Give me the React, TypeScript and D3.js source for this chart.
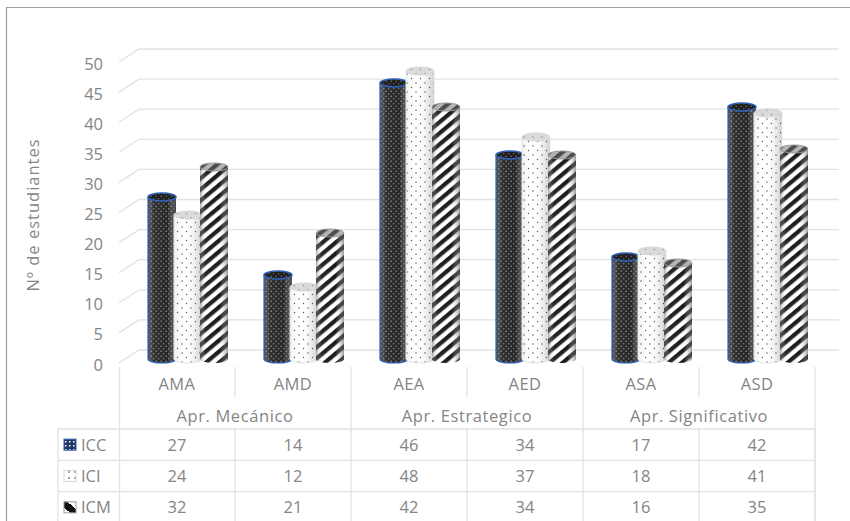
import React from "react";
import * as d3 from "d3";

const categories = ["AMA", "AMD", "AEA", "AED", "ASA", "ASD"];
const groups = ["Apr. Mecánico", "Apr. Estrategico", "Apr. Significativo"];
const seriesNames = ["ICC", "ICI", "ICM"];
const icc = [27, 14, 46, 34, 17, 42];
const ici = [24, 12, 48, 37, 18, 41];
const icm = [32, 21, 42, 34, 16, 35];
const yTicks = d3.range(0, 51, 5);

const W = 850;
const H = 521;
const font = "'Open Sans', 'Noto Sans', sans-serif";
const textColor = "#858585";
const gridColor = "#e2e2e2";
const labelSize = 16.5;

const tableX = 119;
const tableRight = 815;
const depthX = 20;
const depthY = 13;

const x = d3.scaleBand<string>().domain(categories).range([tableX, tableRight]);
const axisY = d3.scaleLinear().domain([0, 50]).range([363, 62]);
const barY = d3.scaleLinear().domain([0, 50]).range([359, 59]);
const seriesX = d3.scaleBand<string>().domain(seriesNames).range([29, 107]);
const seriesValues = [icc, ici, icm];
const rowY = d3.scaleBand<string>().domain(seriesNames).range([429, 523]);

const fills = ["url(#pat-icc)", "url(#pat-ici)", "url(#pat-icm)"];
const keyFills = ["url(#key-icc)", "url(#key-ici)", "url(#key-icm)"];

function Cylinder({ cx, top, bottom, rx, series }: { cx: number; top: number; bottom: number; rx: number; series: number }) {
  const ry = 4;
  const body = `M${cx - rx},${top}L${cx - rx},${bottom}A${rx},${ry} 0 0 0 ${cx + rx},${bottom}L${cx + rx},${top}Z`;
  const capTint = series === 0 ? "#000" : series === 1 ? "#bbb" : "#777";
  const capOpacity = series === 0 ? 0.2 : 0.55;
  return (
    <g>
      <path d={body} fill={fills[series]} />
      <path d={body} fill={series === 1 ? "url(#shade-light)" : "url(#shade)"} />
      {series === 0 && <path d={`M${cx - rx},${top}L${cx - rx},${bottom}A${rx},${ry} 0 0 0 ${cx + rx},${bottom}`} fill="none" stroke="#2f62b5" strokeWidth={1.2} />}
      {series === 1 && <path d={body} fill="none" stroke="#e3e6ea" strokeWidth={1} />}
      <ellipse cx={cx} cy={top} rx={rx} ry={ry} fill={fills[series]} />
      <ellipse cx={cx} cy={top} rx={rx} ry={ry} fill={capTint} fillOpacity={capOpacity} stroke={series === 0 ? "#2f62b5" : series === 1 ? "#d8d8d8" : "#9a9a9a"} strokeWidth={series === 0 ? 1.6 : 1} />
    </g>
  );
}

export default function App() {
  return (
    <svg width={W} height={H} style={{ position: "fixed", left: 0, top: 0, background: "#fff" }} fontFamily={font}>
      <defs>
        <pattern id="pat-icc" width="5" height="5" patternUnits="userSpaceOnUse">
          <rect width="5" height="5" fill="#262626" />
          <circle cx="1.2" cy="1.2" r="0.8" fill="#8f8f8f" />
          <circle cx="3.7" cy="3.7" r="0.8" fill="#808080" />
        </pattern>
        <pattern id="pat-ici" width="9" height="9" patternUnits="userSpaceOnUse">
          <rect width="9" height="9" fill="#fff" />
          <circle cx="2" cy="2" r="0.7" fill="#444" />
          <circle cx="6.5" cy="6.5" r="0.7" fill="#555" />
        </pattern>
        <pattern id="pat-icm" width="8.5" height="8.5" patternUnits="userSpaceOnUse" patternTransform="rotate(-40)">
          <rect width="8.5" height="8.5" fill="#fff" />
          <rect width="8.5" height="4.2" fill="#1b1b1b" />
        </pattern>
        <pattern id="key-icc" width="4" height="4" patternUnits="userSpaceOnUse">
          <rect width="4" height="4" fill="#1f3566" />
          <rect x="1" y="1" width="1.5" height="1.5" fill="#fff" />
        </pattern>
        <pattern id="key-ici" width="6" height="6" patternUnits="userSpaceOnUse">
          <rect width="6" height="6" fill="#fff" />
          <circle cx="3" cy="4" r="0.8" fill="#333" />
        </pattern>
        <linearGradient id="key-icm" x1="0" y1="1" x2="1" y2="0">
          <stop offset="0.25" stopColor="#fff" />
          <stop offset="0.25" stopColor="#111" />
          <stop offset="0.65" stopColor="#111" />
          <stop offset="0.65" stopColor="#fff" />
        </linearGradient>
        <linearGradient id="shade" x1="0" x2="1" y1="0" y2="0">
          <stop offset="0" stopColor="#666" stopOpacity="0.55" />
          <stop offset="0.2" stopColor="#fff" stopOpacity="0.05" />
          <stop offset="0.7" stopColor="#fff" stopOpacity="0" />
          <stop offset="1" stopColor="#555" stopOpacity="0.6" />
        </linearGradient>
        <linearGradient id="shade-light" x1="0" x2="1" y1="0" y2="0">
          <stop offset="0" stopColor="#000" stopOpacity="0.06" />
          <stop offset="0.4" stopColor="#fff" stopOpacity="0" />
          <stop offset="1" stopColor="#000" stopOpacity="0.2" />
        </linearGradient>
      </defs>

      {/* outer chart border, cropped at the right and bottom */}
      <path d={`M6.5,${H}V7.5H${W}`} fill="none" stroke="#a0a0a0" strokeWidth={1.2} />

      {/* 3D walls */}
      {yTicks.map((t) => (
        <path
          key={t}
          d={`M${tableX},${axisY(t)}L${tableX + depthX},${axisY(t) - depthY}H${tableRight + 24}`}
          fill="none"
          stroke={gridColor}
          strokeWidth={1.3}
        />
      ))}

      {yTicks.map((t) => (
        <text key={t} x={103} y={axisY(t) + 7.5} textAnchor="end" fontSize={labelSize} fill={textColor}>
          {t}
        </text>
      ))}
      <text transform="translate(39,215) rotate(-90)" textAnchor="middle" fontSize={labelSize} letterSpacing={1} fill={textColor}>
        Nº de estudiantes
      </text>

      {/* cylinders, drawn left to right within each category */}
      {categories.map((c, i) =>
        seriesNames.map((s, k) => {
          const bw = seriesX.bandwidth();
          return (
            <Cylinder
              key={c + s}
              cx={(x(c) as number) + (seriesX(s) as number) + bw / 2 + 1}
              top={barY(seriesValues[k][i])}
              bottom={barY(0)}
              rx={14}
              series={k}
            />
          );
        })
      )}

      {/* data table */}
      <g stroke={gridColor} strokeWidth={1.3} fill="none">
        <path d={`M${tableX + 0.5},367V${H}`} />
        {categories.map((c, i) => {
          const right = (x(c) as number) + x.bandwidth();
          return <path key={c} d={`M${right},367V${i % 2 === 1 ? 429 : 397}`} />;
        })}
        {seriesNames.map((s) => (
          <path key={s} d={`M58,${rowY(s)}H${tableRight}`} />
        ))}
        <path d={`M58,429V${H}M${tableRight},429V${H}`} />
        {categories.map((c) => (
          <path key={c} d={`M${(x(c) as number) + x.bandwidth()},429V${H}`} />
        ))}
      </g>

      {categories.map((c) => (
        <text key={c} x={(x(c) as number) + x.bandwidth() / 2} y={390} textAnchor="middle" fontSize={labelSize} letterSpacing={0.4} fill={textColor}>
          {c}
        </text>
      ))}
      {groups.map((g, i) => (
        <text key={g} x={tableX + x.bandwidth() * (2 * i + 1)} y={422} textAnchor="middle" fontSize={labelSize} letterSpacing={0.6} fill={textColor}>
          {g}
        </text>
      ))}

      {seriesNames.map((s, k) => {
        const y0 = rowY(s) as number;
        const mid = y0 + rowY.bandwidth() / 2;
        return (
          <g key={s}>
            <rect x={64} y={mid - 5.5} width={12} height={11} fill={keyFills[k]} stroke={k === 0 ? "#2f5fb0" : k === 1 ? "#d4dbe6" : "#999"} strokeWidth={1} />
            <text x={81} y={mid + 6} fontSize={labelSize} fill={textColor}>
              {s}
            </text>
            {categories.map((c, i) => (
              <text key={c} x={(x(c) as number) + x.bandwidth() / 2} y={mid + 6} textAnchor="middle" fontSize={labelSize} fill={textColor}>
                {seriesValues[k][i]}
              </text>
            ))}
          </g>
        );
      })}
    </svg>
  );
}
